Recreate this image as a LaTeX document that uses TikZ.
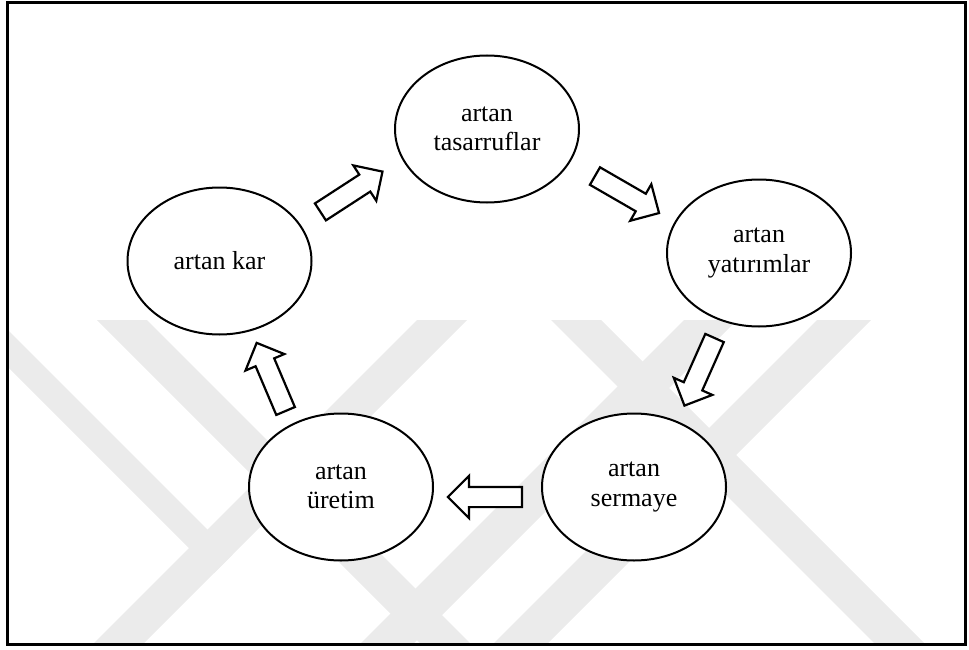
\documentclass[tikz,border=0pt]{standalone}
\usepackage{fontspec}
\setmainfont{Liberation Serif}
\usetikzlibrary{shapes.geometric,shapes.arrows}
\tikzset{
  bubble/.style={ellipse, draw, line width=2pt, fill=white, inner sep=0pt,
    minimum width=184pt, minimum height=147pt, align=center,
    font=\fontsize{26pt}{29.5pt}\selectfont},
  blockarrow/.style={single arrow, draw, line width=2.2pt, fill=white,
    inner sep=9pt, minimum height=74pt, single arrow head extend=11pt,
    single arrow tip angle=90, anchor=tail},
  band/.style={fill=black!8, draw=none},
  frame/.style={draw, line width=3pt}
}
\begin{document}
\begin{tikzpicture}[x=1pt,y=-1pt]
\useasboundingbox (0,0) rectangle (969,650);
% faint watermark
\begin{scope}
\clip (8,4) rectangle (964,643);
\fill[band] (-39,320) -- (-2,320) -- (232.5,554.5) -- (214,573) -- cycle;
\fill[band] (97,320) -- (147,320) -- (470,643) -- (420,643) -- cycle;
\fill[band] (417,320) -- (467,320) -- (144,643) -- (94,643) -- cycle;
\fill[band] (551,320) -- (601,320) -- (924,643) -- (874,643) -- cycle;
\fill[band] (817,320) -- (871,320) -- (548,643) -- (494,643) -- cycle;
\fill[band] (684,320) -- (737,320) -- (414,643) -- (361,643) -- cycle;
\end{scope}
% frame
\node[frame, inner sep=0pt, minimum width=957.5pt, minimum height=642pt] (frm) at (486.25,323.5) {};
% ellipses
\node[bubble] (tas) at (487,129) {artan\\tasarruflar};
\node[bubble] (yat) at (759,253) {artan\\yatırımlar};
\node[bubble] (ser) at (634,487) {artan\\sermaye};
\node[bubble] (ure) at (341,487) {artan\\üretim};
\node[bubble] (kar) at (219.5,261) {artan kar};
% block arrows
\node[blockarrow, rotate=33] (a1) at (319.5,212.5) {};
\node[blockarrow, rotate=-30] (a2) at (594,175.5) {};
\node[blockarrow, rotate=-114] (a3) at (715,337) {};
\node[blockarrow, rotate=180] (a4) at (523,497) {};
\node[blockarrow, rotate=113] (a5) at (286,412) {};
\end{tikzpicture}
\end{document}
